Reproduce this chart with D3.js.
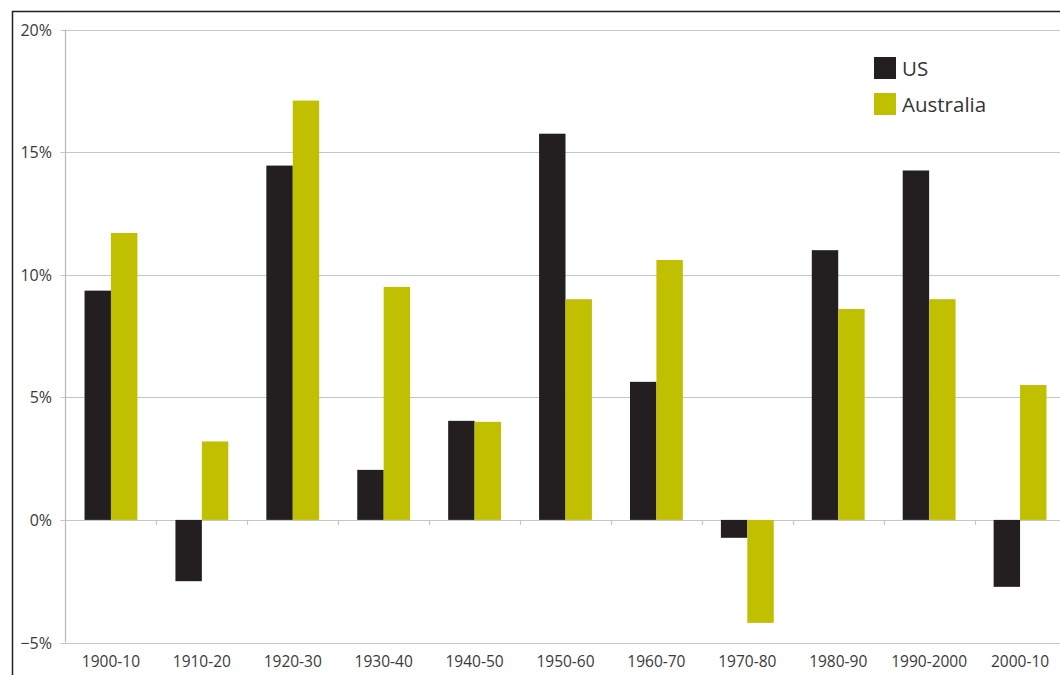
<!DOCTYPE html>
<html><head><meta charset="utf-8">
<script src="https://cdn.jsdelivr.net/npm/d3@7"></script>
<style>body{margin:0;background:#fff;} svg{display:block;font-family:"Open Sans","Noto Sans",sans-serif;}</style>
</head><body>
<svg id="c" width="1060" height="675"></svg>
<script>
const categories = ["1900-10","1910-20","1920-30","1930-40","1940-50","1950-60","1960-70","1970-80","1980-90","1990-2000","2000-10"];
const seriesNames = ["US","Australia"];
const usValues = [9.35, -2.5, 14.45, 2.04, 4.04, 15.75, 5.63, -0.73, 11.0, 14.25, -2.73];
const ausValues = [11.7, 3.2, 17.1, 9.5, 4.0, 9.0, 10.6, -4.2, 8.6, 9.0, 5.5];
const yTicks = [-5, 0, 5, 10, 15, 20];
const colors = ["#231f20", "#c0bf00"];

const svg = d3.select("#c");
const pL = 65.5, pR = 1065.5, pT = 29.5, pB = 642.5;

// outer frame
svg.append("path").attr("d", `M12.5,675 V11.5 H1060`).attr("fill","none").attr("stroke","#231f20").attr("stroke-width",1.5);

const x = d3.scaleBand().domain(categories).range([pL, pR]);
const y = d3.scaleLinear().domain([-5, 20]).range([pB, pT]);
const inner = d3.scaleBand().domain(seriesNames).range([0, x.bandwidth()]).paddingOuter(0.72).paddingInner(0);

// gridlines
svg.append("g").selectAll("line").data(yTicks).join("line")
  .attr("x1", pL - 5).attr("x2", pR)
  .attr("y1", d => Math.round(y(d)) + 0.5).attr("y2", d => Math.round(y(d)) + 0.5)
  .attr("stroke", "#c6c6c6").attr("stroke-width", 1.2);

// y axis labels
svg.append("g").selectAll("text").data(yTicks).join("text")
  .attr("x", 52).attr("y", d => y(d) + 6)
  .attr("text-anchor", "end").attr("font-size", 16).attr("fill", "#3a3a3a")
  .text(d => (d < 0 ? "\u2212" + Math.abs(d) : d) + "%");

// bars
const data = categories.map((c, i) => ({c, vals: [usValues[i], ausValues[i]]}));
const groups = svg.append("g").selectAll("g").data(data).join("g")
  .attr("transform", d => `translate(${x(d.c)},0)`);
groups.selectAll("rect").data(d => d.vals.map((v, j) => ({v, s: seriesNames[j], j}))).join("rect")
  .attr("x", d => inner(d.s)).attr("width", inner.bandwidth())
  .attr("y", d => y(Math.max(0, d.v))).attr("height", d => Math.abs(y(d.v) - y(0)))
  .attr("fill", d => colors[d.j]);

// y axis line
svg.append("line").attr("x1", pL).attr("x2", pL).attr("y1", pT).attr("y2", pB)
  .attr("stroke", "#b8b8b8").attr("stroke-width", 1.2);

// zero line ticks at category boundaries
svg.append("g").selectAll("line").data(categories.slice(1)).join("line")
  .attr("x1", d => Math.round(x(d)) + 0.5).attr("x2", d => Math.round(x(d)) + 0.5)
  .attr("y1", y(0)).attr("y2", y(0) + 5)
  .attr("stroke", "#c6c6c6").attr("stroke-width", 1.2);

// x labels
svg.append("g").selectAll("text").data(categories).join("text")
  .attr("x", d => x(d) + x.bandwidth() / 2).attr("y", 667)
  .attr("text-anchor", "middle").attr("font-size", 15.5).attr("fill", "#3a3a3a")
  .text(d => d);

// legend
const lg = svg.append("g").selectAll("g").data(seriesNames).join("g")
  .attr("transform", (d, i) => `translate(874,${57 + i * 36})`);
lg.append("rect").attr("width", 22).attr("height", 22).attr("fill", (d, i) => colors[i]);
lg.append("text").attr("x", 28).attr("y", 19).attr("font-size", 20.5).attr("fill", "#333").text(d => d);
</script>
</body></html>
